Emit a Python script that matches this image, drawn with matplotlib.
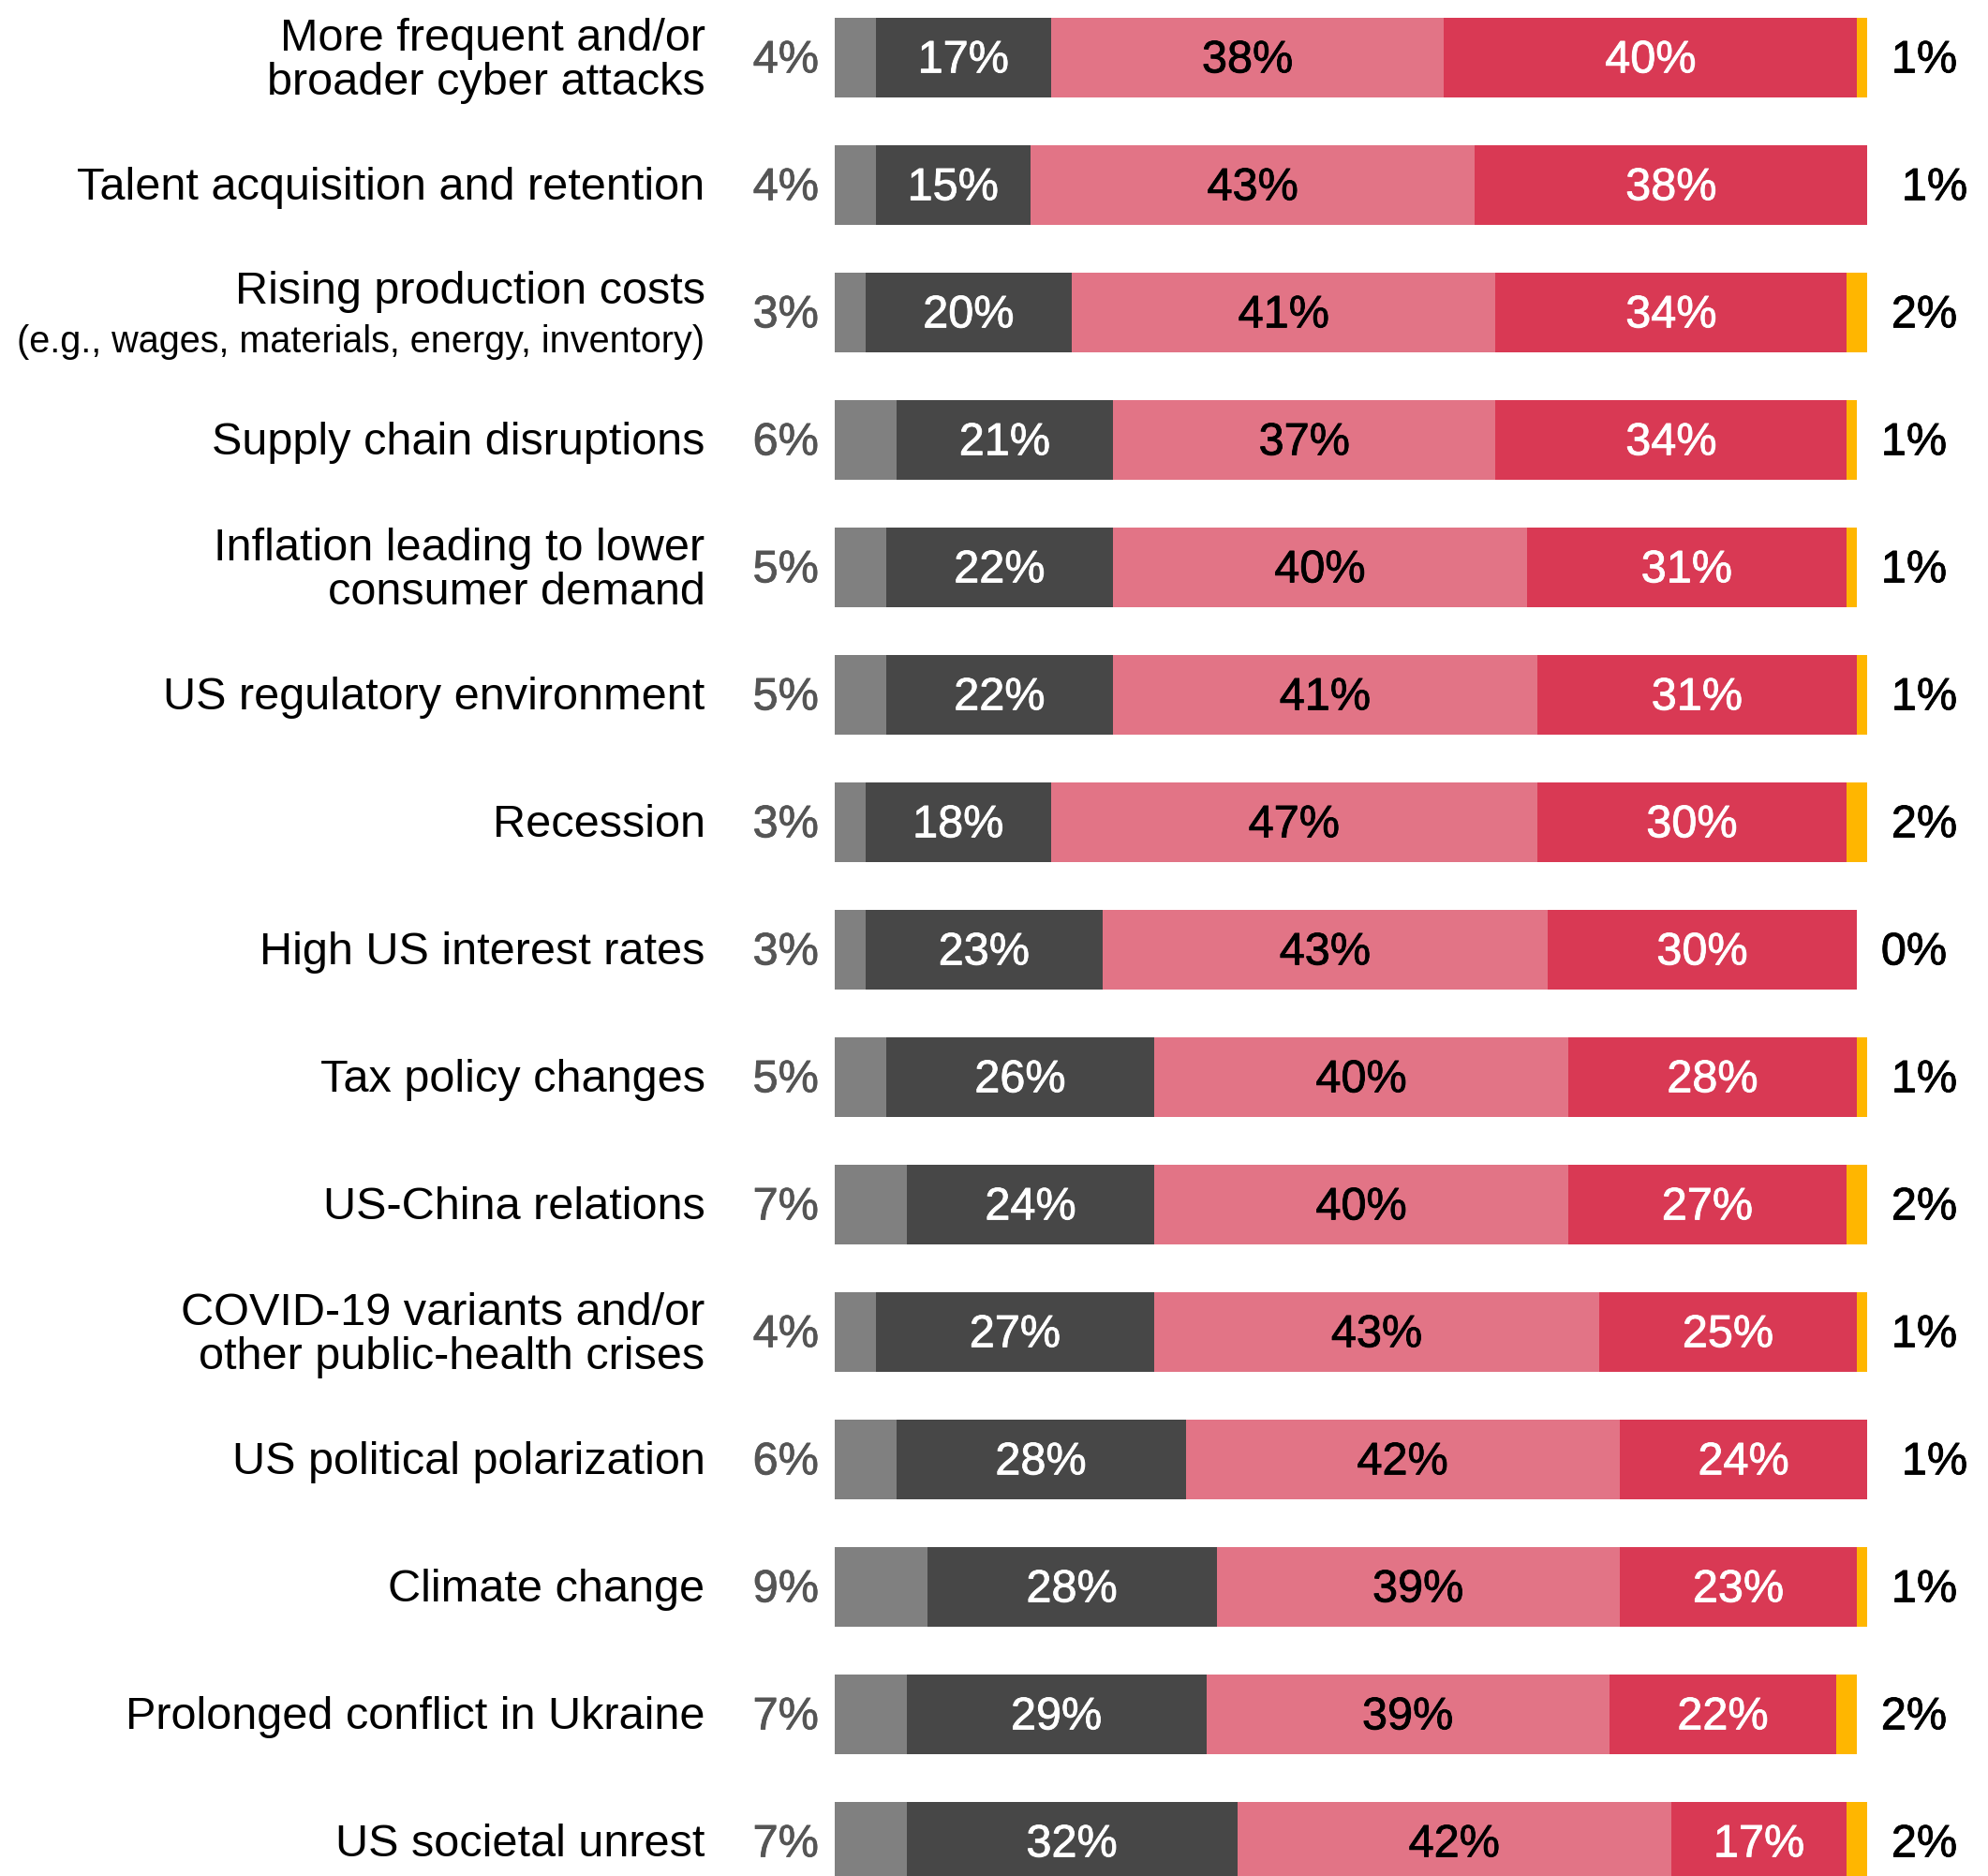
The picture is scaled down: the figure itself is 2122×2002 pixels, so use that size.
import matplotlib.pyplot as plt
import matplotlib.patheffects as pe

plt.rcParams['font.family'] = ['Liberation Sans', 'DejaVu Sans']

# Datos del gráfico
categorias = [
    "More frequent and/or\nbroader cyber attacks",
    "Talent acquisition and retention",
    "Rising production costs",
    "Supply chain disruptions",
    "Inflation leading to lower\nconsumer demand",
    "US regulatory environment",
    "Recession",
    "High US interest rates",
    "Tax policy changes",
    "US-China relations",
    "COVID-19 variants and/or\nother public-health crises",
    "US political polarization",
    "Climate change",
    "Prolonged conflict in Ukraine",
    "US societal unrest",
]
subtitulo = "(e.g., wages, materials, energy, inventory)"

gris_claro = [4, 4, 3, 6, 5, 5, 3, 3, 5, 7, 4, 6, 9, 7, 7]
gris_oscuro = [17, 15, 20, 21, 22, 22, 18, 23, 26, 24, 27, 28, 28, 29, 32]
rosa = [38, 43, 41, 37, 40, 41, 47, 43, 40, 40, 43, 42, 39, 39, 42]
rojo = [40, 38, 34, 34, 31, 31, 30, 30, 28, 27, 25, 24, 23, 22, 17]
naranja = [1, 1, 2, 1, 1, 1, 2, 0, 1, 2, 1, 1, 1, 2, 2]

series = [gris_claro, gris_oscuro, rosa, rojo, naranja]
colores = ['#808080', '#474747', '#E27486', '#D93954', '#FFB600']
color_texto = [None, 'white', 'black', 'white', None]

fig = plt.figure(figsize=(21.22, 20.02), dpi=100)
ax = fig.add_axes([890.5 / 2122, 0, 1103 / 2122, 1])
ax.set_xlim(0, 100)
ax.set_ylim((2002 - 61.5) / 136, -61.5 / 136)
ax.axis('off')

fs = 35
dy = 0.025  # pequeño ajuste vertical del texto


def grueso(c):
    return [pe.withStroke(linewidth=0.6, foreground=c)]


y = list(range(len(categorias)))
izq = [0] * len(categorias)
for valores, color, ctxt in zip(series, colores, color_texto):
    ax.barh(y, valores, left=izq, height=85 / 136, color=color, linewidth=0)
    if ctxt:
        for i, v in enumerate(valores):
            ax.text(izq[i] + v / 2, i + dy, f"{v}%", ha='center', va='center',
                    color=ctxt, fontsize=fs, path_effects=grueso(ctxt))
    izq = [a + b for a, b in zip(izq, valores)]

for i, cat in enumerate(categorias):
    # etiquetas de categoría
    if i == 2:
        ax.text(-12.5, i - 0.16, cat, ha='right', va='center', fontsize=fs, clip_on=False)
        ax.text(-12.5, i + 0.23, subtitulo, ha='right', va='center', fontsize=28.5, clip_on=False)
    else:
        ax.text(-12.5, i + dy, cat, ha='right', va='center', fontsize=fs,
                linespacing=1.08, clip_on=False)
    ax.text(-1.5, i + dy, f"{gris_claro[i]}%", ha='right', va='center',
            color='#555555', fontsize=fs, clip_on=False, path_effects=grueso('#555555'))
    ax.text(izq[i] + 2.3, i + dy, f"{naranja[i]}%", ha='left', va='center',
            color='black', fontsize=fs, clip_on=False, path_effects=grueso('black'))

fig.savefig('out.png', dpi=100)
